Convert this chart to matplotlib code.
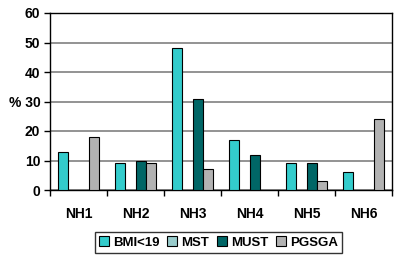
import numpy as np
import matplotlib
matplotlib.use("Agg")
import matplotlib.pyplot as plt

plt.rcParams['font.family'] = ['Liberation Sans', 'DejaVu Sans']
plt.rcParams['font.weight'] = 'bold'

categories = ['NH1', 'NH2', 'NH3', 'NH4', 'NH5', 'NH6']
series_names = ['BMI<19', 'MST', 'MUST', 'PGSGA']
bmi = [13, 9, 48, 17, 9, 6]
mst = [0, 0, 0, 0, 0, 0]
must = [0, 10, 31, 12, 9, 0]
pgsga = [18, 9, 7, 0, 3, 24]
yticks = [0, 10, 20, 30, 40, 50, 60]
ytick_labels = ['0', '10', '20', '% 30', '40', '50', '60']

colors = ['#33CCCC', '#99CCCC', '#006666', '#B2B2B2']

fig = plt.figure(figsize=(3.94, 2.58), dpi=100)
ax = fig.add_axes([50/394, 1 - 190/258, 342/394, 177/258])

x = np.arange(len(categories))
w = 1 / 5.5
handles = []
for i, (name, vals) in enumerate(zip(series_names, [bmi, mst, must, pgsga])):
    v = np.array(vals, dtype=float)
    h = ax.bar(x + (i - 1.5) * w, v, w, color=colors[i], edgecolor='black', linewidth=0.8,
               label=name, zorder=3)
    # hide zero-height bars
    for b, val in zip(h, v):
        if val == 0:
            b.set_visible(False)
    handles.append(plt.Rectangle((0, 0), 1, 1, facecolor=colors[i], edgecolor='black', linewidth=0.8))

ax.set_xlim(-0.5, 5.5)
ax.set_ylim(0, 60)
ax.set_yticks(yticks)
ax.set_yticklabels(ytick_labels, fontsize=10, fontweight='bold')
ax.set_xticks(x)
ax.set_xticklabels(categories, fontsize=10, fontweight='bold')
ax.set_xticks(np.arange(-0.5, 6, 1), minor=True)
ax.tick_params(axis='x', which='major', length=0, pad=12)
ax.tick_params(axis='x', which='minor', length=4, width=1, direction='out')
ax.tick_params(axis='y', length=4, width=1, direction='out', pad=3)

ax.yaxis.grid(True, color='#808080', linewidth=1.2, zorder=0)
ax.set_axisbelow(True)
for s in ax.spines.values():
    s.set_color('black')
    s.set_linewidth(1)

leg = fig.legend(handles, series_names, loc='center', bbox_to_anchor=(218.5/394, 1 - 242.5/258),
                 ncol=4, frameon=True, fancybox=False, edgecolor='black',
                 handlelength=0.75, handleheight=0.75, handletextpad=0.3, columnspacing=0.6,
                 borderpad=0.3, prop={'weight': 'bold', 'size': 9.5})
leg.get_frame().set_linewidth(1)

fig.savefig('out.png', dpi=100)
